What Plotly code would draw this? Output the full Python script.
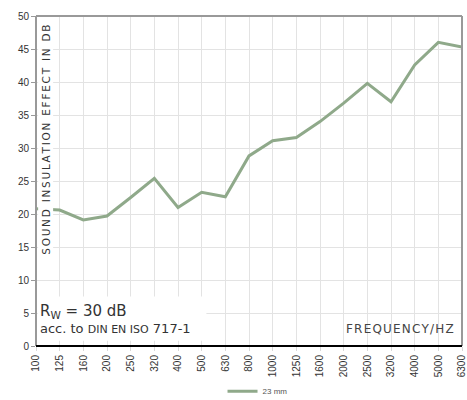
import plotly.graph_objects as go

categories = ["100", "125", "160", "200", "250", "320", "400", "500", "630", "800",
              "1000", "1250", "1600", "2000", "2500", "3200", "4000", "5000", "6300"]
values_23mm = [20.8, 20.6, 19.1, 19.7, 22.5, 25.4, 21.0, 23.3, 22.6, 28.8,
               31.1, 31.6, 34.0, 36.8, 39.8, 37.0, 42.6, 46.0, 45.3]
series_name = "23 mm"
y_ticks = [0, 5, 10, 15, 20, 25, 30, 35, 40, 45, 50]

SP = "\u2006"
y_title = SP.join("SOUND INSULATION EFFECT IN DB")
x_title = "\u200a".join("FREQUENCY/HZ")
TICKFONT = dict(family="Liberation Sans, Arial", size=10, color="#333")

fig = go.Figure()
fig.add_trace(go.Scatter(
    x=categories, y=values_23mm, mode="lines", name=series_name,
    line=dict(color="#8fa98a", width=3),
))

fig.update_layout(
    width=467, height=400,
    margin=dict(l=36, r=5, t=16, b=54, autoexpand=False),
    paper_bgcolor="white", plot_bgcolor="white",
    font=dict(family="DejaVu Sans", color="#333"),
    showlegend=True,
    legend=dict(orientation="h", x=0.52, xanchor="center", yref="paper", y=-0.137,
                yanchor="middle", font=dict(family="Liberation Sans, Arial", size=8, color="#555")),
    xaxis=dict(type="category", range=[0, 18], showgrid=True, gridcolor="#e3e3e3",
               tickangle=-90, tickfont=TICKFONT, ticks="outside",
               ticklen=4, tickcolor="#d8d8d8",
               showline=False, zeroline=False, automargin=False),
    yaxis=dict(range=[0, 50], tickvals=y_ticks, showgrid=True, gridcolor="#e3e3e3",
               tickfont=TICKFONT, ticks="outside", ticklen=4,
               tickcolor="#999", showline=False, zeroline=False, automargin=False),
    shapes=[
        dict(type="line", xref="paper", yref="paper", x0=0, x1=1, y0=1, y1=1,
             line=dict(color="#999", width=2)),
        dict(type="line", xref="paper", yref="paper", x0=0, x1=0, y0=0, y1=1,
             line=dict(color="#999", width=2)),
        dict(type="line", xref="paper", yref="paper", x0=1, x1=1, y0=0, y1=1,
             line=dict(color="#999", width=2)),
        dict(type="rect", xref="paper", yref="y", x0=0.004, x1=0.4, y0=0.8, y1=7.5,
             fillcolor="white", line=dict(width=0), layer="above"),
        dict(type="line", xref="paper", yref="paper", x0=0, x1=1, y0=0, y1=0,
             line=dict(color="black", width=2), layer="above"),
    ],
    annotations=[
        dict(text=y_title, textangle=-90, xref="paper", yref="paper",
             x=0.004, xanchor="left", y=0.624, yanchor="middle", showarrow=False,
             font=dict(size=10.5, color="#333"), bgcolor="white"),
        dict(text="R<sub>W</sub> = 30 dB", xref="paper", yref="y", x=0.005, xanchor="left",
             y=5.2, yanchor="middle", showarrow=False, font=dict(size=15, color="#333")),
        dict(text="acc. to <span style='font-size:11px'>DIN EN ISO</span> 717-1", xref="paper",
             yref="y", x=0.005, xanchor="left", y=2.6, yanchor="middle", showarrow=False,
             font=dict(size=13, color="#333")),
        dict(text=x_title, xref="paper", yref="y", x=0.985, xanchor="right",
             y=2.6, yanchor="middle", showarrow=False, font=dict(size=12, color="#444")),
    ],
)

fig.write_html("out.html", config={"displayModeBar": False},
               post_script="document.body.style.margin='0';")
